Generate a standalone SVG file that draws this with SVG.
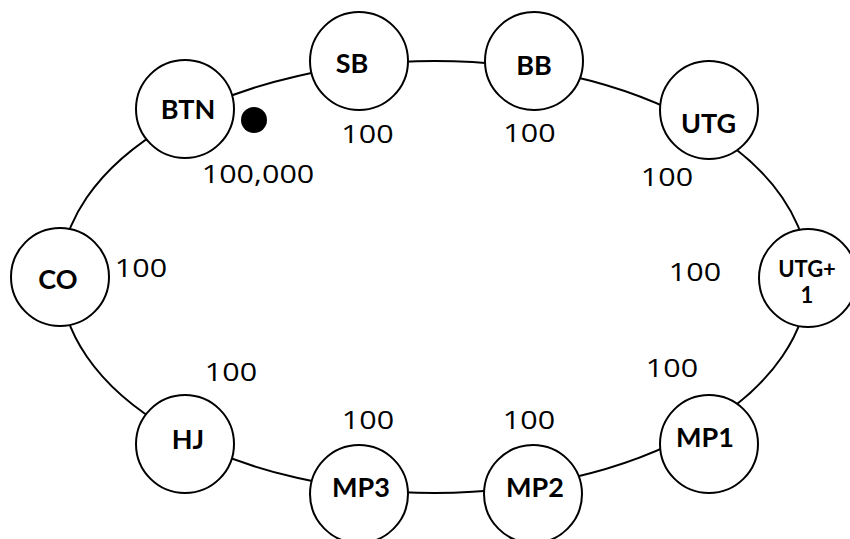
<svg xmlns="http://www.w3.org/2000/svg" width="850" height="539" viewBox="0 0 850 539">
<style>
.n{fill:#fff;stroke:#000;stroke-width:2}
.t{font-family:Lato,"Open Sans","DejaVu Sans",sans-serif;font-weight:bold;font-size:27px;fill:#000;text-anchor:middle}
.s{font-size:22px}
.v{font-family:"Open Sans","DejaVu Sans",sans-serif;font-size:25px;fill:#000;text-anchor:middle}
</style>
<rect width="850" height="539" fill="#fff"/>
<g id="connectors">
<ellipse cx="434.5" cy="277" rx="374" ry="216" fill="none" stroke="#000" stroke-width="2"/>
</g>
<g id="node-btn"><circle class="n" cx="185" cy="109" r="49"/><text class="t" x="188" y="119">BTN</text></g>
<g id="node-sb"><circle class="n" cx="359" cy="61" r="49"/><text class="t" x="352" y="73">SB</text></g>
<g id="node-bb"><circle class="n" cx="534" cy="61" r="49"/><text class="t" x="534" y="75">BB</text></g>
<g id="node-utg"><circle class="n" cx="709" cy="110" r="49"/><text class="t" x="708.5" y="133">UTG</text></g>
<g id="node-utg1"><circle class="n" cx="808" cy="278" r="49"/><text class="t s" x="807" y="277">UTG+</text><text class="t s" x="807" y="303">1</text></g>
<g id="node-mp1"><circle class="n" cx="709" cy="444" r="49"/><text class="t" x="705" y="447">MP1</text></g>
<g id="node-mp2"><circle class="n" cx="533" cy="494" r="49"/><text class="t" x="535" y="497">MP2</text></g>
<g id="node-mp3"><circle class="n" cx="359" cy="494" r="49"/><text class="t" x="361" y="497">MP3</text></g>
<g id="node-hj"><circle class="n" cx="185" cy="444" r="49"/><text class="t" x="188" y="449">HJ</text></g>
<g id="node-co"><circle class="n" cx="60" cy="277" r="49"/><text class="t" x="58" y="289">CO</text></g>
<circle id="dealer-button" cx="254" cy="120" r="13"/>
<g id="stacks">
<text class="v" transform="translate(258 183) scale(1.22 1)">100,000</text>
<text class="v" transform="translate(367.5 143) scale(1.22 1)">100</text>
<text class="v" transform="translate(529.5 142) scale(1.22 1)">100</text>
<text class="v" transform="translate(667 186) scale(1.22 1)">100</text>
<text class="v" transform="translate(695 281) scale(1.22 1)">100</text>
<text class="v" transform="translate(672 377) scale(1.22 1)">100</text>
<text class="v" transform="translate(529 429) scale(1.22 1)">100</text>
<text class="v" transform="translate(368 429) scale(1.22 1)">100</text>
<text class="v" transform="translate(231 381) scale(1.22 1)">100</text>
<text class="v" transform="translate(141 277) scale(1.22 1)">100</text>
</g>
</svg>
